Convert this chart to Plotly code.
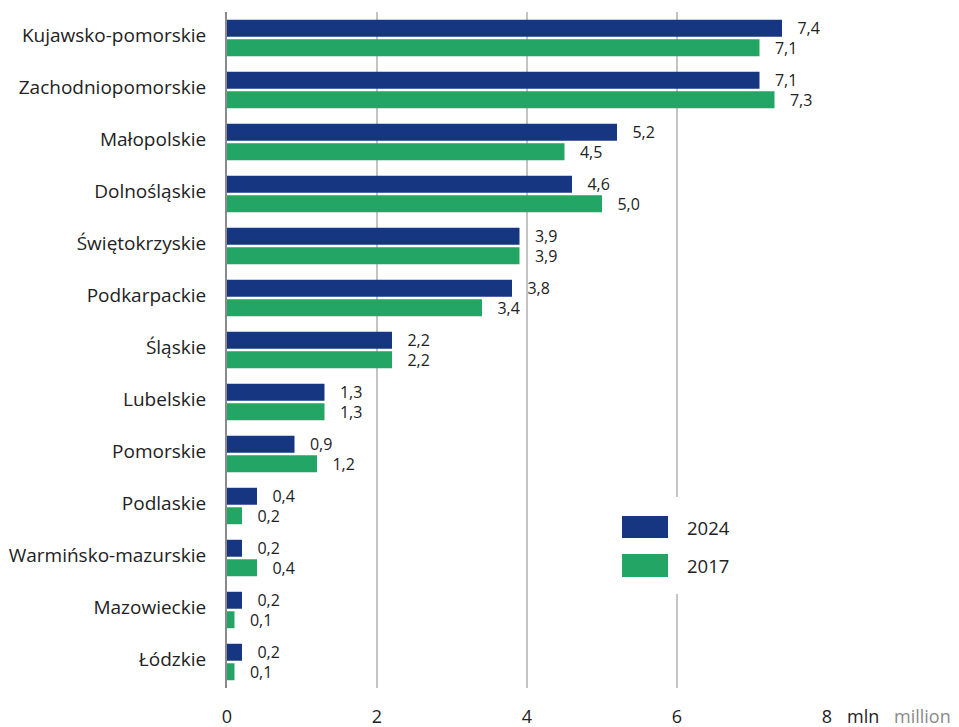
import plotly.graph_objects as go

regions = ["Kujawsko-pomorskie", "Zachodniopomorskie", "Małopolskie", "Dolnośląskie",
           "Świętokrzyskie", "Podkarpackie", "Śląskie", "Lubelskie", "Pomorskie",
           "Podlaskie", "Warmińsko-mazurskie", "Mazowieckie", "Łódzkie"]
values_2024 = [7.4, 7.1, 5.2, 4.6, 3.9, 3.8, 2.2, 1.3, 0.9, 0.4, 0.2, 0.2, 0.2]
values_2017 = [7.1, 7.3, 4.5, 5.0, 3.9, 3.4, 2.2, 1.3, 1.2, 0.2, 0.4, 0.1, 0.1]
series_names = ["2024", "2017"]
x_ticks = [0, 2, 4, 6, 8]

BLUE = "#173682"
GREEN = "#23a566"
FONT = "Open Sans"
TXT = "#222222"

W, H = 959, 727
ML, MR, MT, MB = 227, 132, 12, 39
PW, PH = W - ML - MR, H - MT - MB


def px(x):
    return (x - ML) / PW


def py(y):
    return (H - MB - y) / PH


def fmt(v):
    return f"{v:.1f}".replace(".", ",")


fig = go.Figure()
for name, vals, col in [(series_names[0], values_2024, BLUE), (series_names[1], values_2017, GREEN)]:
    fig.add_trace(go.Bar(
        y=regions, x=vals, name=name, orientation="h",
        marker=dict(color=col, line=dict(width=0)),
        text=[fmt(v) for v in vals],
        texttemplate="\u00a0\u00a0\u00a0%{text}",
        textposition="outside",
        constraintext="none",
        textfont=dict(family=FONT, size=16, color=TXT),
        cliponaxis=False,
        showlegend=False,
        hoverinfo="skip",
    ))

fig.update_layout(
    width=W, height=H,
    margin=dict(l=ML, r=MR, t=MT, b=MB, autoexpand=False),
    paper_bgcolor="white", plot_bgcolor="white",
    barmode="group", bargap=0.25, bargroupgap=0.13,
    font=dict(family=FONT, size=18, color=TXT),
    xaxis=dict(range=[0, 8], tickvals=x_ticks, ticktext=[str(t) for t in x_ticks],
               showgrid=True, gridcolor="#c4c4c4", gridwidth=1.5,
               zeroline=False, showline=False, ticks="", automargin=False,
               ticklabelstandoff=16, fixedrange=True,
               tickfont=dict(family=FONT, size=18, color=TXT)),
    yaxis=dict(autorange="reversed", showline=True, linecolor="#8a8a8a", linewidth=2,
               showgrid=False, ticks="", automargin=False, ticklabelstandoff=15,
               ticklabelshift=3, fixedrange=True,
               tickfont=dict(family=FONT, size=19, color=TXT)),
)

# legend box (white background interrupting gridline)
fig.add_shape(type="rect", xref="paper", yref="paper",
              x0=px(600), x1=px(750), y0=py(594), y1=py(497),
              fillcolor="white", line=dict(width=0), layer="above")
for (name, col, y0, y1) in [(series_names[0], BLUE, 516, 538), (series_names[1], GREEN, 554, 577)]:
    fig.add_shape(type="rect", xref="paper", yref="paper",
                  x0=px(622), x1=px(668), y0=py(y1), y1=py(y0),
                  fillcolor=col, line=dict(width=0), layer="above")
    fig.add_annotation(xref="paper", yref="paper", x=px(685), y=py((y0 + y1) / 2),
                       text=name, showarrow=False, xanchor="left", yanchor="middle",
                       font=dict(family=FONT, size=18.5, color=TXT))

# unit label
fig.add_annotation(xref="paper", yref="paper", x=px(845), y=py(716),
                   text="mln", showarrow=False, xanchor="left", yanchor="middle",
                   font=dict(family=FONT, size=18, color=TXT))
fig.add_annotation(xref="paper", yref="paper", x=px(892), y=py(716),
                   text="million", showarrow=False, xanchor="left", yanchor="middle",
                   font=dict(family=FONT, size=18, color="#8a8a8a"))

fig.write_html("out.html", config={"displayModeBar": False},
               post_script="document.body.style.margin='0px';document.body.style.padding='0px';document.body.style.overflow='hidden';")
